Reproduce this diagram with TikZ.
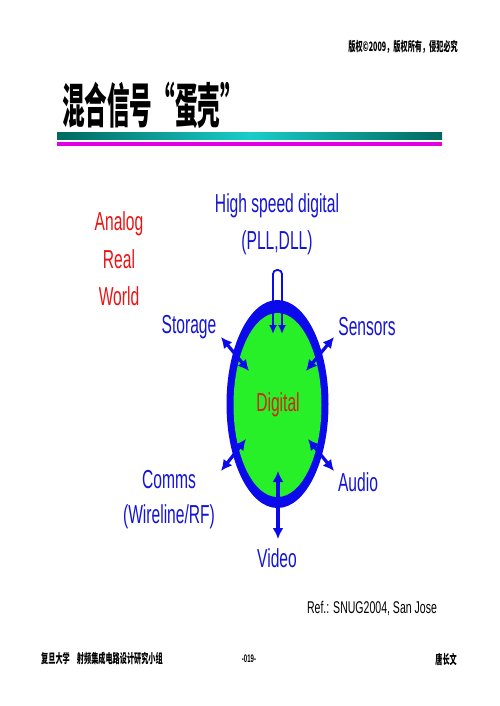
\documentclass[tikz,border=0pt]{standalone}
\usepackage{fontspec}
\setmainfont{Liberation Sans}
\newfontfamily\cjk{Noto Sans CJK SC}
\usepackage{graphicx}
\usetikzlibrary{arrows.meta,positioning}

\definecolor{txtblue}{RGB}{20,20,215}
\definecolor{ringblue}{RGB}{10,10,235}
\definecolor{eggreen}{RGB}{40,240,40}
\definecolor{anared}{RGB}{235,20,20}
\definecolor{digred}{RGB}{205,40,20}
\definecolor{tealdark}{RGB}{0,105,95}
\definecolor{teallight}{RGB}{25,205,200}
\definecolor{barmag}{RGB}{225,0,225}

\newcommand{\nar}[2][0.6]{\scalebox{#1}[1]{#2}}

\tikzset{
  lbl/.style={text=txtblue, font=\fontsize{26}{37}\selectfont, align=center, inner sep=0pt},
  dbl/.style={ringblue, line width=3.2pt, {Latex[length=11pt,width=11pt]}-{Latex[length=11pt,width=11pt]}},
  cjktxt/.style={font=\cjk\bfseries\fontsize{13}{13}\selectfont, inner sep=0pt},
}

\begin{document}
\begin{tikzpicture}[x=1pt,y=-1pt]

	\fill[white] (0,0) rectangle (499,706);
	\useasboundingbox (0,0) rectangle (499,706);

	% header and title
	\node[cjktxt, anchor=east] (copy) at (458,47) {\nar[0.55]{版权©2009，版权所有，侵犯必究}};
	\node[anchor=west, inner sep=0pt, font=\cjk\bfseries\fontsize{48}{48}\selectfont] (title) at (62,105) {\nar[0.47]{混合信号“蛋壳”}};
	\fill[left color=tealdark, right color=tealdark, middle color=teallight] (57,132) rectangle (442,139);
	\fill[barmag] (57,142) rectangle (442,146);

	% the egg
	\fill[ringblue] (277.5,404) ellipse[x radius=51, y radius=104];
	\fill[eggreen] (277.5,405) ellipse[x radius=44, y radius=92];
	\node[text=digred, font=\fontsize{26}{26}\selectfont, inner sep=0pt] (dig) at (278,405) {\nar{Digital}};

	\node[text=anared, font=\fontsize{26}{37.5}\selectfont, align=center, inner sep=0pt] (analog) at (119,259) {\nar{Analog}\\\nar{Real}\\\nar{World}};

	\node[lbl] (hsd) at (277,224) {\nar{High speed digital}\\\nar{(PLL,DLL)}};
	\node[lbl] (stor) at (189,327) {\nar{Storage}};
	\node[lbl] (sens) at (367,327) {\nar{Sensors}};
	\node[lbl, font=\fontsize{26}{35}\selectfont] (comms) at (169,500) {\nar{Comms}\\\nar{(Wireline/RF)}};
	\node[lbl] (audio) at (358,482) {\nar{Audio}};
	\node[lbl] (video) at (277,558) {\nar{Video}};

	\coordinate (pllL) at (273,334);
	\coordinate (pllR) at (282,334);
	\draw[ringblue, line width=1.8pt, rounded corners=4pt, {Latex[length=9pt,width=8pt]}-{Latex[length=9pt,width=8pt]}] (pllL) -- (273,270) -- (282,270) -- (pllR);

	\coordinate (storO) at (221,337);  \coordinate (storI) at (249,371);
	\coordinate (sensO) at (334,337);  \coordinate (sensI) at (306,371);
	\coordinate (commO) at (221,471);  \coordinate (commI) at (246,439);
	\coordinate (audO) at (334,471);   \coordinate (audI) at (308,439);
	\coordinate (vidO) at (278,539);   \coordinate (vidI) at (278,471);

	\draw[dbl] (storO) -- (storI);
	\draw[dbl] (sensO) -- (sensI);
	\draw[dbl] (commO) -- (commI);
	\draw[dbl] (audO) -- (audI);
	\draw[dbl] (vidO) -- (vidI);

	\node[inner sep=0pt, font=\fontsize{17}{17}\selectfont] (ref) at (372,608) {\nar[0.62]{Ref.: SNUG2004, San Jose}};

	% footer
	\node[cjktxt, anchor=west] (fudan) at (41,659) {\nar[0.55]{复旦大学　射频集成电路设计研究小组}};
	\node[inner sep=0pt, font=\bfseries\fontsize{11}{11}\selectfont] (page) at (249,659) {\nar[0.55]{-019-}};
	\node[cjktxt, anchor=east] (auth) at (457,659) {\nar[0.55]{唐长文}};

\end{tikzpicture}
\end{document}
